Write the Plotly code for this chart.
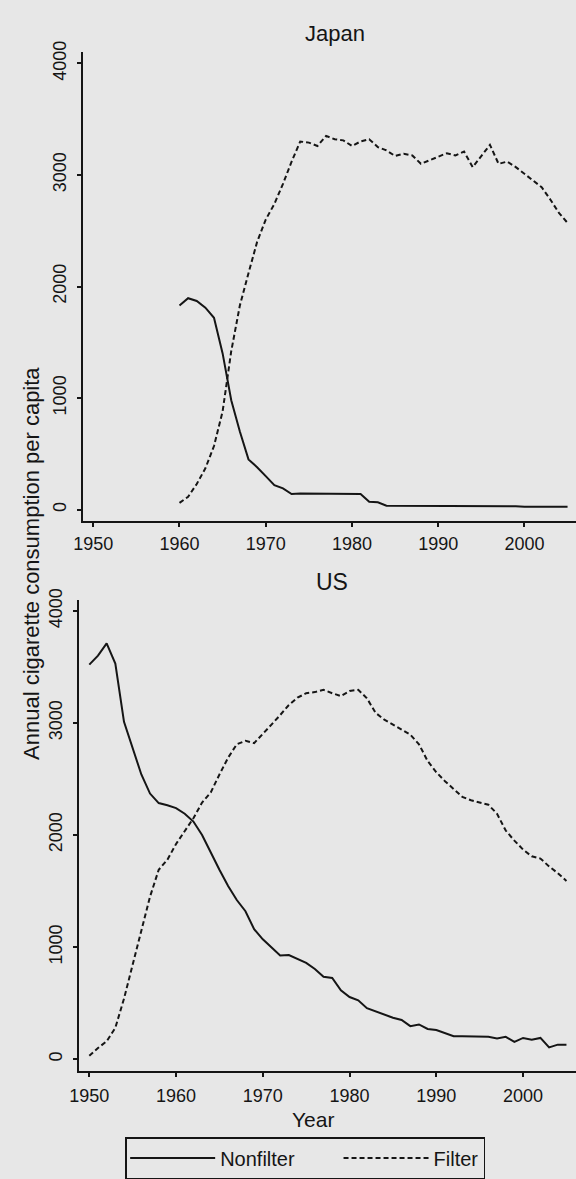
import plotly.graph_objects as go

W, H = 576, 1179

years_jp = list(range(1960, 2006))
jp_nonfilter = [1830, 1895, 1870, 1810, 1720, 1400, 980, 700, 450, 380,
                300, 220, 190, 140, 145, 145, 140, 145, 145, 140,
                145, 140, 70, 65, 35, 35, 35, 35, 35, 35,
                35, 35, 35, 35, 35, 35, 35, 30, 30, 30,
                25, 25, 25, 25, 25, 25]
jp_filter = [60, 115, 230, 370, 570, 880, 1420, 1830, 2120, 2400,
             2600, 2740, 2920, 3120, 3300, 3290, 3260, 3350, 3320, 3310,
             3260, 3300, 3320, 3250, 3220, 3170, 3190, 3175, 3100, 3130,
             3165, 3195, 3175, 3210, 3070, 3165, 3270, 3100, 3120, 3070,
             3010, 2950, 2890, 2780, 2660, 2570]

years_us = list(range(1950, 2006))
us_nonfilter = [3520, 3600, 3710, 3530, 3010, 2780, 2540, 2370, 2285, 2265,
                2240, 2190, 2120, 2000, 1840, 1690, 1545, 1420, 1320, 1160,
                1070, 1000, 925, 930, 895, 860, 805, 735, 725, 615,
                555, 525, 455, 425, 400, 370, 350, 295, 310, 270,
                260, 230, 205, 205, 205, 205, 200, 185, 200, 155,
                190, 175, 190, 105, 130, 130]
us_filter = [30, 100, 160, 280, 540, 840, 1160, 1450, 1690, 1780,
             1920, 2040, 2150, 2290, 2380, 2540, 2690, 2810, 2840, 2820,
             2900, 2985, 3070, 3160, 3225, 3265, 3275, 3295, 3265, 3240,
             3285, 3295, 3220, 3090, 3030, 2985, 2940, 2895, 2810, 2660,
             2560, 2480, 2410, 2340, 2310, 2290, 2270, 2190, 2040, 1950,
             1870, 1810, 1790, 1720, 1660, 1590]

panel_titles = ["Japan", "US"]
series_names = ["Nonfilter", "Filter"]
x_ticks = [1950, 1960, 1970, 1980, 1990, 2000]
y_ticks = [0, 1000, 2000, 3000, 4000]
y_title = "Annual cigarette consumption per capita"
x_title = "Year"

FONT = "Liberation Sans, Arial, Helvetica, sans-serif"
INK = "#151515"
BG = "#e7e7e7"

def py(px):
    return 1 - px / H

fig = go.Figure()

solid = dict(color=INK, width=2)
dashed = dict(color=INK, width=2, dash="5px,3px")
pad = "\u00a0" * 7  # spacing between the two legend entries

fig.add_trace(go.Scatter(x=years_jp, y=jp_nonfilter, mode="lines", line=solid,
                         name=series_names[0] + pad, legendgroup="nf", xaxis="x", yaxis="y"))
fig.add_trace(go.Scatter(x=years_jp, y=jp_filter, mode="lines", line=dashed,
                         name=series_names[1], legendgroup="f", xaxis="x", yaxis="y"))
fig.add_trace(go.Scatter(x=years_us, y=us_nonfilter, mode="lines", line=solid,
                         name=series_names[0], legendgroup="nf", showlegend=False,
                         xaxis="x2", yaxis="y2"))
fig.add_trace(go.Scatter(x=years_us, y=us_filter, mode="lines", line=dashed,
                         name=series_names[1], legendgroup="f", showlegend=False,
                         xaxis="x2", yaxis="y2"))

axis_common = dict(showline=True, linecolor=INK, linewidth=2, showgrid=False,
                   zeroline=False, ticks="outside", ticklen=4, tickwidth=1.5,
                   tickcolor=INK, tickfont=dict(family=FONT, size=18, color=INK))

fig.update_layout(
    width=W, height=H,
    margin=dict(l=0, r=0, t=0, b=0),
    paper_bgcolor=BG, plot_bgcolor=BG,
    font=dict(family=FONT, color=INK),
    xaxis=dict(domain=[75 / W, 1], range=[1948.79, 2005.98], tickvals=x_ticks,
               anchor="y", ticklabelstandoff=2, **axis_common),
    yaxis=dict(domain=[py(514), py(40)], range=[-100, 4106], tickvals=y_ticks,
               tickangle=-90, anchor="x", ticklabelstandoff=4, **axis_common),
    xaxis2=dict(domain=[71 / W, 1], range=[1948.8, 2006.1], tickvals=x_ticks,
                anchor="y2", ticklabelstandoff=3, **axis_common),
    yaxis2=dict(domain=[py(1070), py(594)], range=[-106, 4097], tickvals=y_ticks,
                tickangle=-90, anchor="x2", ticklabelstandoff=4, **axis_common),
    showlegend=True,
    legend=dict(orientation="h", x=118 / W, y=py(1137), xanchor="left", yanchor="top",
                bgcolor=BG, bordercolor=INK, borderwidth=1.5,
                font=dict(family=FONT, size=20, color=INK),
                itemwidth=85, tracegroupgap=0),
    annotations=[
        dict(text=panel_titles[0], x=331 / W, y=py(22), xref="paper", yref="paper",
             xanchor="center", yanchor="middle",
             showarrow=False, font=dict(family=FONT, size=22, color=INK)),
        dict(text=panel_titles[1], x=328 / W, y=py(576), xref="paper", yref="paper",
             xanchor="center", yanchor="middle",
             showarrow=False, font=dict(family=FONT, size=23, color=INK)),
        dict(text=y_title, x=23 / W, y=py(557), xref="paper", yref="paper",
             xanchor="center", yanchor="middle",
             textangle=-90, showarrow=False, font=dict(family=FONT, size=22, color=INK)),
        dict(text=x_title, x=309 / W, y=py(1118.5), xref="paper", yref="paper",
             xanchor="center", yanchor="middle",
             showarrow=False, font=dict(family=FONT, size=21, color=INK)),
    ],
)

fig.write_html("out.html", config={"displayModeBar": False},
               post_script="document.body.style.margin='0px';")
